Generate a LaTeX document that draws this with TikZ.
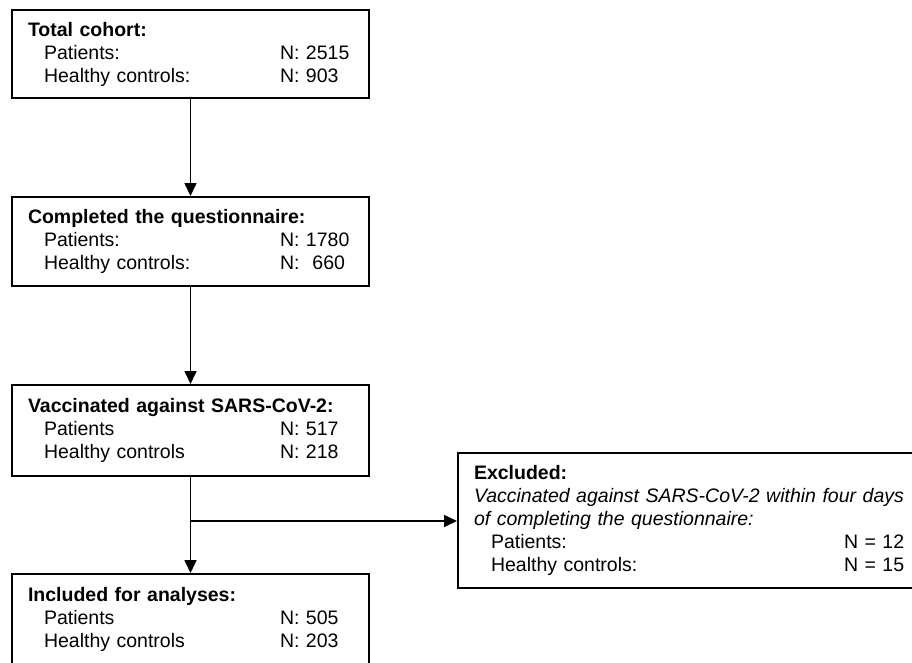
\documentclass[tikz,border=0pt]{standalone}
\usepackage{fontspec}
\setmainfont{Liberation Sans}
\usetikzlibrary{arrows.meta}

\newcommand{\grp}[2]{\hspace*{16pt}\makebox[236pt][l]{#1}#2}
\newcommand{\exgrp}[2]{\hspace*{17pt}\makebox[353pt][l]{#1}#2}

\begin{document}
\begin{tikzpicture}[x=1pt,y=-1pt,
    box/.style={draw,line width=2pt,anchor=north west,align=left,inner xsep=16pt,inner ysep=0pt,font=\fontsize{19.5}{23}\selectfont},
    arr/.style={-{Triangle[width=12pt,length=13pt]},line width=1.6pt}]
  \clip (0,0) rectangle (912,662);
  \node[box,text width=325pt,minimum height=88pt] (total) at (11,9)
    {\textbf{Total cohort:}\\ \grp{Patients:}{N: 2515}\\ \grp{Healthy controls:}{N: 903}};
  \node[box,text width=325pt,minimum height=89pt] (quest) at (11,196)
    {\textbf{Completed the questionnaire:}\\ \grp{Patients:}{N: 1780}\\ \grp{Healthy controls:}{N:~ 660}};
  \node[box,text width=325pt,minimum height=91pt] (vacc) at (11,384)
    {\textbf{Vaccinated against SARS-CoV-2:}\\ \grp{Patients}{N: 517}\\ \grp{Healthy controls}{N: 218}};
  \node[box,text width=325pt,inner ysep=13pt,text depth=60pt] (incl) at (11,573)
    {\textbf{Included for analyses:}\\ \grp{Patients}{N: 505}\\ \grp{Healthy controls}{N: 203}};
  \node[box,text width=440pt,minimum height=135pt] (excl) at (457,452)
    {\textbf{Excluded:}\\ \textit{Vaccinated against SARS-CoV-2 within four days}\\
     \textit{of completing the questionnaire:}\\
     \exgrp{Patients:}{N = 12}\\ \exgrp{Healthy controls:}{N = 15}};

  \coordinate (split) at ([yshift=-44pt]vacc.south);
  \draw[arr] (total) -- (quest);
  \draw[arr] (quest) -- (vacc);
  \draw[arr] (vacc) -- (incl);
  \draw[arr] (split) -- (excl.west |- split);
\end{tikzpicture}
\end{document}
